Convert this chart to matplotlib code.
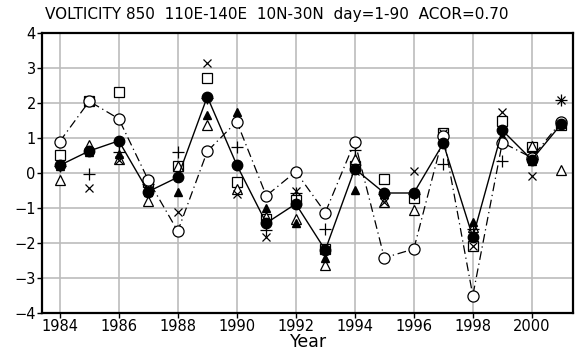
import numpy as np
import matplotlib
matplotlib.use('Agg')
import matplotlib.pyplot as plt

# values
years = np.arange(1984, 2002)

obs_fill_circle = [0.22, 0.63, 0.92, -0.53, -0.12, 2.18, 0.23, -1.43, -0.88, -2.2,
                   0.12, -0.57, -0.57, 0.85, -1.83, 1.22, 0.38, 1.4]
open_circle = [0.9, 2.05, 1.55, -0.2, -1.66, 0.62, 1.47, -0.65, 0.04, -1.13,
               0.9, -2.42, -2.17, 1.06, -3.5, 0.87, 0.44, 1.47]
open_square = [0.51, 2.07, 2.32, -0.25, 0.21, 2.72, -0.25, -1.3, -0.77, -2.18,
               0.2, -0.17, -0.7, 1.15, -2.09, 1.48, 0.75, 1.37]
fill_triangle = [0.2, 0.6, 0.55, -0.55, -0.53, 1.66, 1.74, -0.99, -1.43, -2.44,
                 -0.49, -0.6, -0.55, 0.9, -1.39, 1.05, 0.35, 1.4]
open_triangle = [-0.2, 0.8, 0.4, -0.79, 0.2, 1.37, -0.45, -1.25, -1.3, -2.63,
                 0.4, -0.82, -1.06, 1.0, -1.55, 1.0, 0.77, 0.09]
cross = [0.25, -0.43, 0.37, -0.3, -1.1, 3.15, -0.6, -1.83, -0.5, -2.2,
         0.05, -0.82, 0.07, 1.15, -2.09, 1.75, -0.08, 2.09]
plus = [0.2, -0.03, 0.6, -0.3, 0.61, 2.15, 0.73, -1.63, -0.58, -1.6,
        0.65, -0.6, -0.6, 0.26, -1.6, 0.34, 0.4, 2.09]

title = 'VOLTICITY 850  110E-140E  10N-30N  day=1-90  ACOR=0.70'

fig = plt.figure(figsize=(5.76, 3.51), dpi=100)
ax = fig.add_axes([0.073, 0.108, 0.922, 0.798])

ms = 7
ax.plot(years, open_square, ls='none', marker='s', ms=ms, mfc='white', mec='black', mew=0.9, zorder=3)
ax.plot(years, open_triangle, ls='none', marker='^', ms=ms, mfc='white', mec='black', mew=0.9, zorder=3)
ax.plot(years, fill_triangle, ls='none', marker='^', ms=ms - 1, mfc='black', mec='black', zorder=3)
ax.plot(years, cross, ls='none', marker='x', ms=ms - 1, mec='black', mew=0.9, zorder=3)
ax.plot(years, plus, ls='none', marker='+', ms=ms + 1, mec='black', mew=0.9, zorder=3)
ax.plot(years, open_circle, ls=(0, (7, 3, 1, 3)), lw=0.9, color='black',
        marker='o', ms=ms + 1, mfc='white', mec='black', mew=0.9, zorder=4)
ax.plot(years, obs_fill_circle, ls='-', lw=1.0, color='black',
        marker='o', ms=ms + 0.5, mfc='black', mec='black', zorder=5)

ax.set_xlim(1983.4, 2001.4)
ax.set_ylim(-4, 4)
ax.set_xticks(np.arange(1984, 2001, 2))
ax.set_yticks(np.arange(-4, 5, 1))
ax.grid(True, color='#bcbcbc', lw=1.2)
ax.set_axisbelow(True)
ax.tick_params(direction='out', length=3.5, width=1, labelsize=10.5, colors='black', pad=1)
for s in ax.spines.values():
    s.set_linewidth(1.6)

fig.text(0.535, 0.0, 'Year', ha='center', va='bottom', fontsize=12.5)
fig.text(0.48, 0.96, title, ha='center', va='center', fontsize=11)

fig.savefig('out.png', dpi=100)
